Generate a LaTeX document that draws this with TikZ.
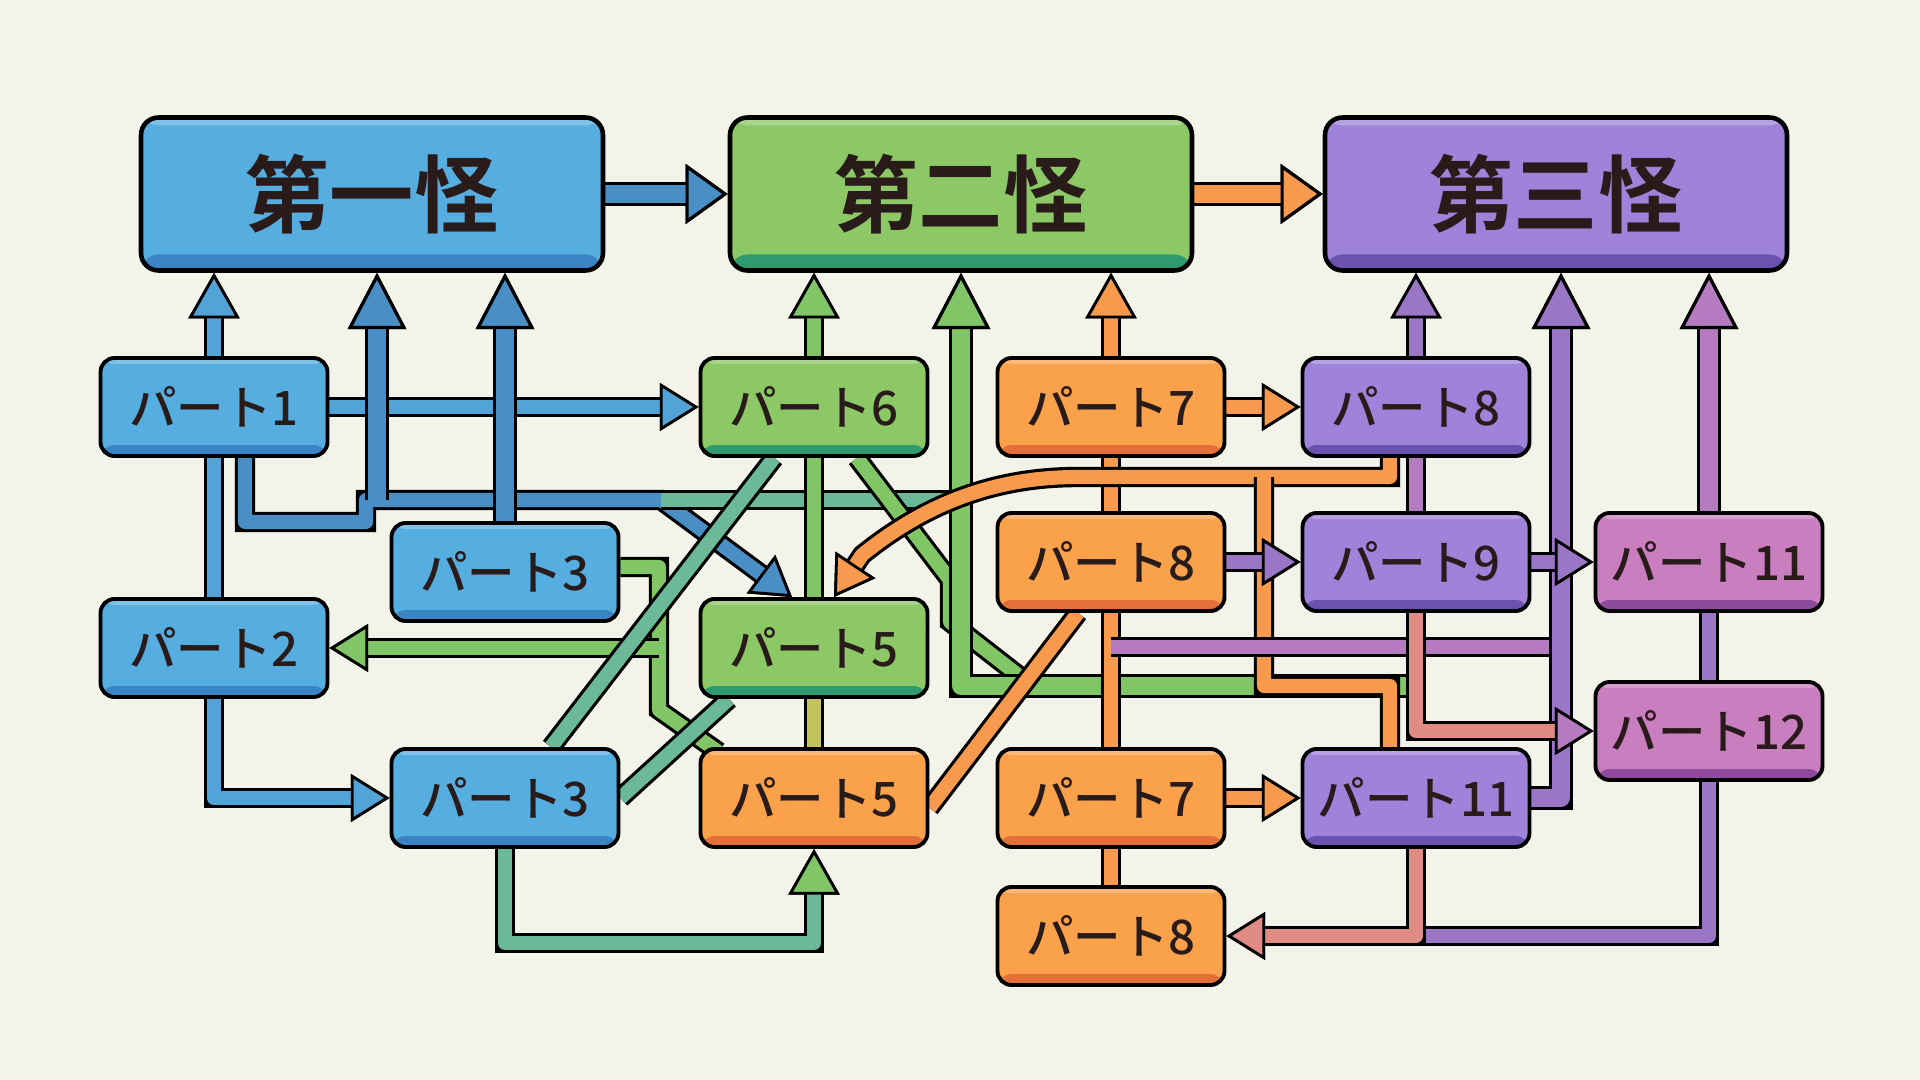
\documentclass[tikz,border=0pt]{standalone}
\usepackage{fontspec}
\newfontfamily\jp{Noto Sans CJK JP}[BoldFont={Noto Sans CJK JP Bold}]
\newfontfamily\jpmed{Noto Sans CJK JP Medium}
\usetikzlibrary{arrows.meta}

\definecolor{paper}{HTML}{F4F3EA}
\definecolor{ink}{HTML}{2A1B1B}
\definecolor{bluebox}{HTML}{56ADE0}
\definecolor{bluedark}{HTML}{3A84C4}
\definecolor{greenbox}{HTML}{8CC865}
\definecolor{greendark}{HTML}{2F9A70}
\definecolor{orangebox}{HTML}{F9A24B}
\definecolor{orangedark}{HTML}{E46F38}
\definecolor{purplebox}{HTML}{9F82DA}
\definecolor{purpledark}{HTML}{6A52B0}
\definecolor{pinkbox}{HTML}{C97EC0}
\definecolor{pinkdark}{HTML}{8E4A9C}
% pipe colours
\definecolor{bluepipe}{HTML}{52A4D8}
\definecolor{bluedeep}{HTML}{4A8EC6}
\definecolor{greenpipe}{HTML}{80C566}
\definecolor{tealpipe}{HTML}{6BB89A}
\definecolor{olivepipe}{HTML}{C4C35E}
\definecolor{orangepipe}{HTML}{F79A4D}
\definecolor{purplepipe}{HTML}{9A76C6}
\definecolor{pinkpipe}{HTML}{B47BC0}
\definecolor{salmonpipe}{HTML}{E08C84}

\pgfdeclarelayer{paperlayer}
\pgfdeclarelayer{pipes}
\pgfsetlayers{paperlayer,pipes,main}

\begin{document}
\begin{tikzpicture}[x=1cm, y=1cm,
    partbox/.style 2 args={draw=black, line width=1.1pt, rounded corners=4pt, fill=#1,
        minimum width=2.27cm, minimum height=0.98cm, text=ink,
        font=\jpmed\fontsize{13.5}{13.5}\selectfont,
        path picture={
            \fill[#2] (path picture bounding box.south west) rectangle ([yshift=0.11cm]path picture bounding box.south east);
            \fill[white, opacity=.25] ([yshift=-0.06cm]path picture bounding box.north west) rectangle (path picture bounding box.north east);}},
    titlebox/.style 2 args={draw=black, line width=1.3pt, rounded corners=5pt, fill=#1,
        minimum width=4.62cm, minimum height=1.53cm, text=ink,
        font=\jp\bfseries\fontsize{24}{24}\selectfont,
        path picture={
            \fill[#2] (path picture bounding box.south west) rectangle ([yshift=0.16cm]path picture bounding box.south east);
            \fill[white, opacity=.25] ([yshift=-0.08cm]path picture bounding box.north west) rectangle (path picture bounding box.north east);}},
    pipe/.style={draw=#1, line width=4pt, line join=round, preaction={draw=black, line width=5.8pt}},
    fat/.style={draw=#1, line width=5pt, line join=round, preaction={draw=black, line width=6.9pt}},
    head/.style={-{Triangle[length=11pt, width=13.5pt, color=black, fill=#1, line width=0.8pt]}},
    uphead/.style={-{Triangle[length=13pt, width=14.5pt, color=black, fill=#1, line width=0.8pt]}},
    bighead/.style={-{Triangle[length=16pt, width=16.5pt, color=black, fill=#1, line width=0.9pt]}},
    titlehead/.style={-{Triangle[length=12pt, width=17pt, color=black, fill=#1, line width=0.9pt]}}]

\useasboundingbox (0,0) rectangle (19.2,-10.8);
\begin{pgfonlayer}{paperlayer}
    \fill[paper] (0,0) rectangle (19.2,-10.8);
\end{pgfonlayer}

% the three monsters
\node[titlebox={bluebox}{bluedark}] (t1) at (3.72,-1.94) {第一怪};
\node[titlebox={greenbox}{greendark}] (t2) at (9.61,-1.94) {第二怪};
\node[titlebox={purplebox}{purpledark}] (t3) at (15.56,-1.94) {第三怪};

% parts
\node[partbox={bluebox}{bluedark}] (p1) at (2.14,-4.07) {パート1};
\node[partbox={greenbox}{greendark}] (p6) at (8.14,-4.07) {パート6};
\node[partbox={orangebox}{orangedark}] (p7a) at (11.11,-4.07) {パート7};
\node[partbox={purplebox}{purpledark}] (p8p) at (14.16,-4.07) {パート8};
\node[partbox={bluebox}{bluedark}] (p3a) at (5.05,-5.72) {パート3};
\node[partbox={orangebox}{orangedark}] (p8o) at (11.11,-5.62) {パート8};
\node[partbox={purplebox}{purpledark}] (p9) at (14.16,-5.62) {パート9};
\node[partbox={pinkbox}{pinkdark}] (p11r) at (17.09,-5.62) {パート11};
\node[partbox={bluebox}{bluedark}] (p2) at (2.14,-6.48) {パート2};
\node[partbox={greenbox}{greendark}] (p5g) at (8.14,-6.48) {パート5};
\node[partbox={pinkbox}{pinkdark}] (p12) at (17.09,-7.31) {パート12};
\node[partbox={bluebox}{bluedark}] (p3b) at (5.05,-7.98) {パート3};
\node[partbox={orangebox}{orangedark}] (p5o) at (8.14,-7.98) {パート5};
\node[partbox={orangebox}{orangedark}] (p7b) at (11.11,-7.98) {パート7};
\node[partbox={purplebox}{purpledark}] (p11p) at (14.16,-7.98) {パート11};
\node[partbox={orangebox}{orangedark}] (p8b) at (11.11,-9.36) {パート8};

% bends
\coordinate (j1) at (3.77,-5.00);
\coordinate (j2) at (6.61,-5.00);
\coordinate (g7) at (6.59,-5.67);
\coordinate (g2) at (14.17,-6.86);
\coordinate (g9) at (8.14,-9.43);
\coordinate (o7) at (10.78,-4.77);
\coordinate (o8) at (12.64,-4.77);
\coordinate (pv) at (15.61,-6.47);

\begin{pgfonlayer}{pipes}
    % blue
    \draw[pipe=bluepipe, uphead=bluepipe] (p1.north) -- (p1.north |- t1.south);
    \draw[pipe=bluepipe, head=bluepipe] (p1.east) -- (p6.west);
    \draw[pipe=bluepipe] (p1.south) -- (p2.north);
    \draw[pipe=bluepipe, head=bluepipe] (p2.south) |- (p3b.west);
    \draw[pipe=bluedeep, head=bluedeep] ([xshift=0.31cm]p1.south) |- (3.66,-5.22) -- (3.66,-5.00) -- (j2) -- ([xshift=-0.22cm]p5g.north);
    \draw[fat=bluedeep, bighead=bluedeep] (j1) -- (j1 |- t1.south);
    \draw[fat=bluedeep, bighead=bluedeep] (p3a.north) -- (p3a.north |- t1.south);
    \draw[pipe=tealpipe] (j2) -- (j2 -| t2.south);
    \draw[fat=bluedeep, titlehead=bluedeep] (t1) -- (t2);

    % green
    \draw[pipe=greenpipe, uphead=greenpipe] (p6.north) -- (p6.north |- t2.south);
    \draw[pipe=greenpipe] (p6.south) -- (p5g.north);
    \draw[pipe=olivepipe] (p5g.south) -- (p5o.north);
    \draw[pipe=greenpipe] ([xshift=0.43cm]p6.south) -- (9.50,-5.80) -- (9.50,-6.22) -- (10.32,-6.86);
    \draw[fat=greenpipe, bighead=greenpipe] (g2) -| (t2.south);
    \draw[pipe=greenpipe] ([yshift=0.05cm]p3a.east) -- (g7) -- (6.59,-7.10) -- ([xshift=0.2cm, yshift=-0.05cm]p5o.north west);
    \draw[pipe=greenpipe, head=greenpipe] (g7 |- p2.east) -- (p2.east);
    \draw[pipe=tealpipe] ([xshift=-0.40cm]p6.south) -- ([xshift=0.46cm]p3b.north);
    \draw[pipe=tealpipe] ([xshift=-0.85cm]p5g.south) -- (p3b.east);
    \draw[pipe=tealpipe, uphead=greenpipe] (p3b.south) |- (g9) -- (p5o.south);

    % orange
    \draw[pipe=orangepipe, uphead=orangepipe] (p7a.north) -- (p7a.north |- t2.south);
    \draw[pipe=orangepipe, head=orangepipe] (p7a.east) -- (p8p.west);
    \draw[pipe=orangepipe] (p7a.south) -- (p8o.north);
    \draw[pipe=orangepipe] (p8o.south) -- (p7b.north);
    \draw[pipe=orangepipe] (p7b.south) -- (p8b.north);
    \draw[pipe=orangepipe, head=orangepipe] (p7b.east) -- (p11p.west);
    \draw[pipe=orangepipe] ([xshift=-0.33cm]p8o.south) -- ([yshift=-0.1cm]p5o.east);
    \draw[pipe=orangepipe, head=orangepipe] ([xshift=-0.26cm]p8p.south) |- (o7) .. controls (10.0,-4.77) and (9.3,-5.0) .. (8.62,-5.55) -- ([xshift=0.2cm]p5g.north);
    \draw[pipe=orangepipe] (o8) |- (13.90,-6.86) -- ([xshift=-0.26cm]p11p.north);
    \draw[fat=orangepipe, titlehead=orangepipe] (t2) -- (t3);

    % purple
    \draw[pipe=purplepipe, uphead=purplepipe] (p8p.north) -- (p8p.north |- t3.south);
    \draw[pipe=pinkpipe] (p8p.south) -- (p9.north);
    \draw[pipe=purplepipe, head=purplepipe] (p8o.east) -- (p9.west);
    \draw[pipe=pinkpipe] (p8o.south |- pv) -- (pv);
    \draw[fat=purplepipe, bighead=purplepipe] (p11p.east) -| ([xshift=0.05cm]t3.south);
    \draw[pipe=purplepipe, head=purplepipe] (p9.east) -- (p11r.west);
    \draw[pipe=salmonpipe, head=pinkpipe] (p9.south) |- (p12.west);
    \draw[fat=pinkpipe, bighead=pinkpipe] (p11r.north) -- (p11r.north |- t3.south);
    \draw[pipe=purplepipe] (p11r.south) -- (p12.north);
    \draw[pipe=purplepipe] (p12.south) |- (p11p.south |- p8b.east);
    \draw[pipe=salmonpipe, head=salmonpipe] (p11p.south) |- (p8b.east);
\end{pgfonlayer}
\end{tikzpicture}
\end{document}
